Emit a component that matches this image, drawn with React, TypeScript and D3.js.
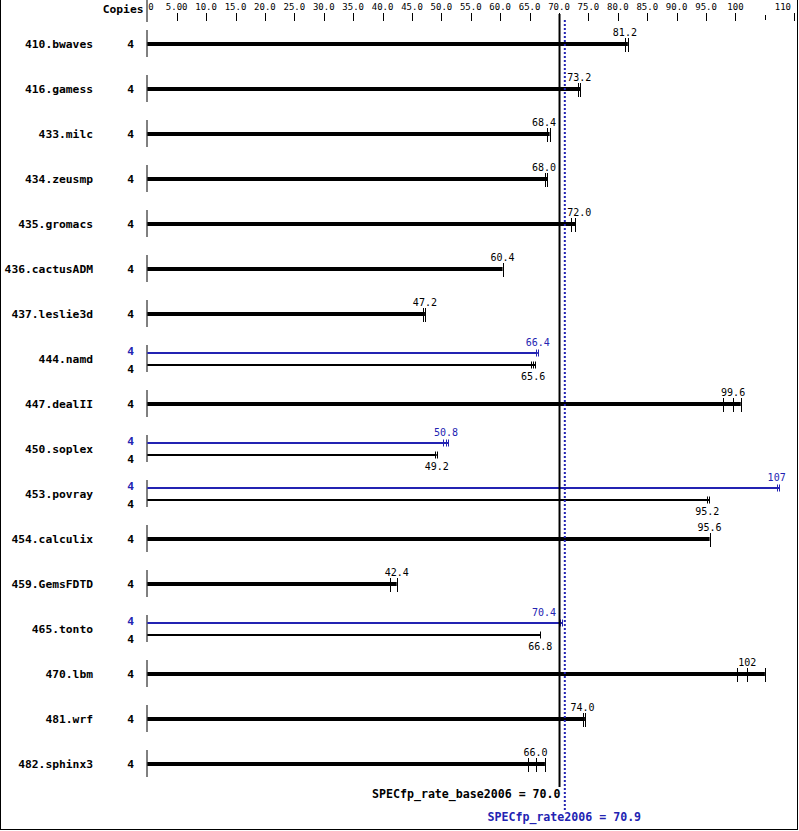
import React from "react";
import * as d3 from "d3";

const benchmarks = ["410.bwaves","416.gamess","433.milc","434.zeusmp","435.gromacs","436.cactusADM","437.leslie3d","444.namd","447.dealII","450.soplex","453.povray","454.calculix","459.GemsFDTD","465.tonto","470.lbm","481.wrf","482.sphinx3"];
const baseCopies = [4,4,4,4,4,4,4,4,4,4,4,4,4,4,4,4,4];
const peakCopies = [4,4,4,4,4,4,4,4,4,4,4,4,4,4,4,4,4];
const baseRatios = [81.2,73.2,68.4,68.0,72.0,60.4,47.2,65.6,99.6,49.2,95.2,95.6,42.4,66.8,102,74.0,66.0];
const baseRuns: number[][] = [[81.2,81.7],[73.2,73.6],[68.0,68.4],[67.7,68.0],[72.0,72.8],[60.4],[46.8,47.2],[65.3,65.6,66.0],[97.8,99.6,100.9],[48.9,49.2],[95.2,95.5],[95.6],[41.2,42.4],[66.8],[100.2,102,105.0],[74.0,74.4],[64.8,66.1,67.6]];
const peakRatios: (number|null)[] = [null,null,null,null,null,null,null,66.4,null,50.8,107,null,null,70.4,null,null,null];
const peakRuns: (number[]|null)[] = [null,null,null,null,null,null,null,[66.1,66.4],null,[50.3,50.8,51.2],[107,107.4],null,null,[70.2,70.5],null,null,null];
const tickValues = [0,5,10,15,20,25,30,35,40,45,50,55,60,65,70,75,80,85,90,95,100,110];
const minorTicks = [105];
const baseSummary = 70.0;
const peakSummary = 70.9;
const baseSummaryLabel = "SPECfp_rate_base2006 = 70.0";
const peakSummaryLabel = "SPECfp_rate2006 = 70.9";

const W = 799, H = 831;
const BLUE = "#2323b2";
const MONO = "'DejaVu Sans Mono', monospace";

export default function App() {
  const x = d3.scaleLinear().domain([0, 110]).range([147.3, 794.3]);
  const y = d3.scalePoint<string>().domain(benchmarks).range([44, 764]);
  const fmt = d3.format(".3r");
  const tickFmt = (v: number) => (v === 0 ? "0" : fmt(v));
  const baseX = x(baseSummary);
  const peakX = x(peakSummary);
  const charW = 6.02;

  const labelX = (v: number, text: string) => {
    const w = text.length * charW;
    let cx = x(v);
    const lo = Math.min(baseX, peakX) - 3, hi = Math.max(baseX, peakX) + 3;
    if (cx - w / 2 < hi && cx + w / 2 > lo) {
      if (cx < (lo + hi) / 2) cx = lo - w / 2;
      else cx = hi + w / 2;
    }
    if (cx + w / 2 > 790) cx = 790 - w / 2;
    return cx;
  };

  const x0 = x(0);
  const NAME_FS = 11.3;

  return (
    <div>
      <style>{`body{margin:0;}`}</style>
      <svg width={W} height={H} style={{ display: "block", background: "#fff" }}>
        <rect x={0} y={0} width={W} height={H} fill="#fff" />
        <line x1={0.5} y1={0} x2={0.5} y2={830} stroke="#000" />
        <line x1={797.5} y1={0} x2={797.5} y2={830} stroke="#000" />
        <line x1={0} y1={829.5} x2={798} y2={829.5} stroke="#000" />

        <text x={143.5} y={13} fontFamily={MONO} fontWeight="bold" fontSize={NAME_FS} textAnchor="end">Copies</text>
        <line x1={x0 - 0.3} y1={0} x2={x0 - 0.3} y2={22} stroke="#000" />
        {tickValues.map((v) => {
          const t = tickFmt(v);
          const anchor = v === 0 ? "start" : v === 110 ? "end" : "middle";
          const tx = v === 0 ? x(v) + 1 : v === 110 ? 791 : x(v);
          return (
            <g key={"t" + v}>
              {v !== 0 && <line x1={Math.round(x(v)) + 0.5} y1={13} x2={Math.round(x(v)) + 0.5} y2={21} stroke="#000" />}
              <text x={tx} y={10} fontFamily={MONO} fontSize={9} textAnchor={anchor}>{t}</text>
            </g>
          );
        })}
        {minorTicks.map((v) => (
          <line key={"m" + v} x1={Math.round(x(v)) + 0.5} y1={15} x2={Math.round(x(v)) + 0.5} y2={20} stroke="#000" />
        ))}

        {benchmarks.map((b, i) => {
          const cy = y(b)!;
          const pr = peakRatios[i];
          const pRuns = peakRuns[i];
          const bRuns = baseRuns[i];
          const bLabel = fmt(baseRatios[i]);
          return (
            <g key={b}>
              <line x1={x0 - 0.3} y1={cy - 14} x2={x0 - 0.3} y2={cy + 13} stroke="#000" />
              <text x={93} y={cy + 4} fontFamily={MONO} fontWeight="bold" fontSize={NAME_FS} textAnchor="end">{b}</text>
              {pr === null || !pRuns ? (
                <g>
                  <text x={134} y={cy + 4} fontFamily={MONO} fontWeight="bold" fontSize={NAME_FS} textAnchor="end">{baseCopies[i]}</text>
                  <rect x={x0} y={cy - 2} width={x(d3.max(bRuns)!) - x0} height={4} fill="#000" />
                  {bRuns.map((r, k) => (
                    <line key={k} x1={Math.round(x(r)) + 0.5} y1={cy - 6} x2={Math.round(x(r)) + 0.5} y2={cy + 8} stroke="#000" />
                  ))}
                  <text x={labelX(baseRatios[i], bLabel)} y={cy - 8} fontFamily={MONO} fontSize={10} textAnchor="middle">{bLabel}</text>
                </g>
              ) : (
                <g>
                  <text x={134} y={cy - 4.5} fontFamily={MONO} fontWeight="bold" fontSize={NAME_FS} textAnchor="end" fill={BLUE}>{peakCopies[i]}</text>
                  <rect x={x0} y={cy - 7} width={x(d3.max(pRuns)!) - x0} height={2} fill={BLUE} />
                  {pRuns.map((r, k) => (
                    <line key={"p" + k} x1={Math.round(x(r)) + 0.5} y1={cy - 9.5} x2={Math.round(x(r)) + 0.5} y2={cy - 2.5} stroke={BLUE} />
                  ))}
                  <text x={labelX(pr, fmt(pr))} y={cy - 13} fontFamily={MONO} fontSize={10} textAnchor="middle" fill={BLUE}>{fmt(pr)}</text>
                  <text x={134} y={cy + 13.5} fontFamily={MONO} fontWeight="bold" fontSize={NAME_FS} textAnchor="end">{baseCopies[i]}</text>
                  <rect x={x0} y={cy + 5} width={x(d3.max(bRuns)!) - x0} height={2} fill="#000" />
                  {bRuns.map((r, k) => (
                    <line key={"b" + k} x1={Math.round(x(r)) + 0.5} y1={cy + 2.5} x2={Math.round(x(r)) + 0.5} y2={cy + 9.5} stroke="#000" />
                  ))}
                  <text x={labelX(baseRatios[i], bLabel)} y={cy + 21} fontFamily={MONO} fontSize={10} textAnchor="middle">{bLabel}</text>
                </g>
              )}
            </g>
          );
        })}

        <line x1={baseX + 0.5} y1={14} x2={baseX + 0.5} y2={787} stroke="#000" strokeWidth={2} />
        <line x1={peakX + 0.5} y1={20} x2={peakX + 0.5} y2={810} stroke={BLUE} strokeWidth={2} strokeDasharray="2,2" />
        <text x={baseX + 1.5} y={798} fontFamily={MONO} fontWeight="bold" fontSize={11.6} textAnchor="end">{baseSummaryLabel}</text>
        <text x={peakX} y={821} fontFamily={MONO} fontWeight="bold" fontSize={11.6} textAnchor="middle" fill={BLUE}>{peakSummaryLabel}</text>
      </svg>
    </div>
  );
}
